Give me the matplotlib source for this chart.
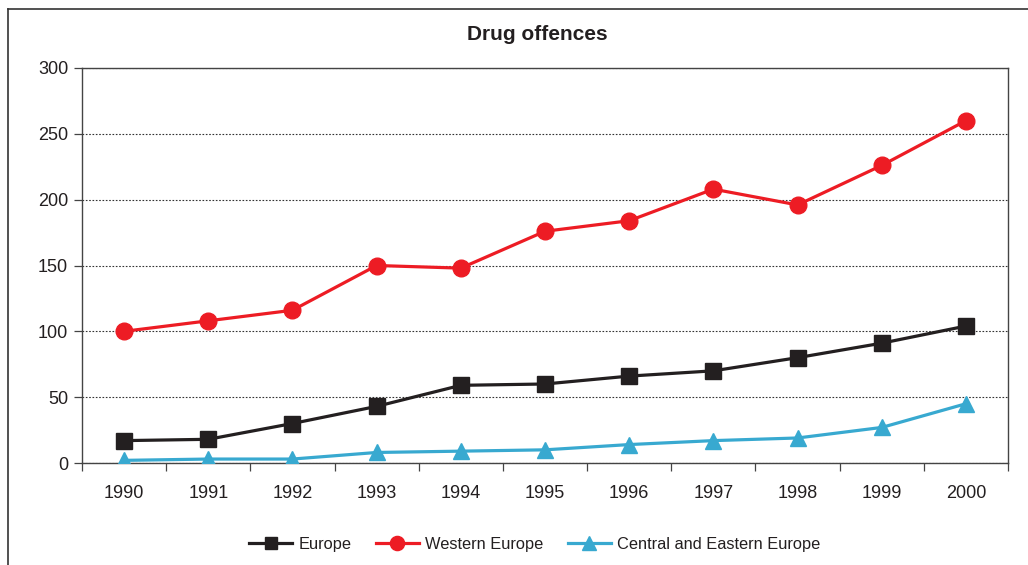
import matplotlib
matplotlib.use("Agg")
import matplotlib.pyplot as plt
from matplotlib.lines import Line2D

years = [1990, 1991, 1992, 1993, 1994, 1995, 1996, 1997, 1998, 1999, 2000]
europe = [17, 18, 30, 43, 59, 60, 66, 70, 80, 91, 104]
western_europe = [100, 108, 116, 150, 148, 176, 184, 208, 196, 226, 260]
central_eastern = [2, 3, 3, 8, 9, 10, 14, 17, 19, 27, 45]
y_ticks = [0, 50, 100, 150, 200, 250, 300]

plt.rcParams['font.family'] = ['Liberation Sans', 'DejaVu Sans']

fig = plt.figure(figsize=(10.28, 5.65), dpi=100)
ax = fig.add_axes([82/1028, 1 - 463/565, (1008-82)/1028, (463-68)/565])

c_eu, c_we, c_ce = '#231f20', '#ed1c24', '#38a9d0'
ax.plot(years, europe, color=c_eu, lw=2.3, marker='s', ms=11, label='Europe', zorder=3)
ax.plot(years, western_europe, color=c_we, lw=2.3, marker='o', ms=12, label='Western Europe', zorder=3)
ax.plot(years, central_eastern, color=c_ce, lw=2.3, marker='^', ms=12, label='Central and Eastern Europe', zorder=3)

ax.set_xlim(years[0] - 0.5, years[-1] + 0.5)
ax.set_ylim(0, 300)
ax.set_yticks(y_ticks)
ax.set_yticklabels([str(v) for v in y_ticks], fontsize=13, color='#231f20')
ax.set_xticks(years)
ax.set_xticklabels([str(y) for y in years], fontsize=13, color='#231f20')
ax.tick_params(axis='x', length=0, pad=16)
ax.set_xticks([y - 0.5 for y in years] + [years[-1] + 0.5], minor=True)
ax.tick_params(axis='x', which='minor', length=6, width=0.9, color='#444444', direction='out')
ax.tick_params(axis='y', length=6, width=0.9, color='#444444', pad=4)
ax.yaxis.grid(True, linestyle=(0, (1.5, 1.5)), color='#333333', lw=0.8)
ax.set_axisbelow(True)
for s in ax.spines.values():
    s.set_color('#444444')
    s.set_linewidth(1.0)

fig.text(537/1028, 1 - 35/565, 'Drug offences', fontsize=15, fontweight='bold',
         color='#231f20', ha='center', va='center')

leg = fig.legend(handles=ax.get_lines(), loc='center', bbox_to_anchor=(535/1028, 1 - 544/565),
                 ncol=3, frameon=False, fontsize=11.8, handlelength=2.6, columnspacing=1.5,
                 handletextpad=0.4, markerscale=0.85)
for t in leg.get_texts():
    t.set_color('#231f20')

# outer frame
fig.add_artist(Line2D([8/1028, 8/1028], [0, 1 - 9/565], color='#333333', lw=1.2, transform=fig.transFigure))
fig.add_artist(Line2D([8/1028, 1], [1 - 9/565, 1 - 9/565], color='#333333', lw=1.2, transform=fig.transFigure))

fig.savefig('out.png', dpi=100)
